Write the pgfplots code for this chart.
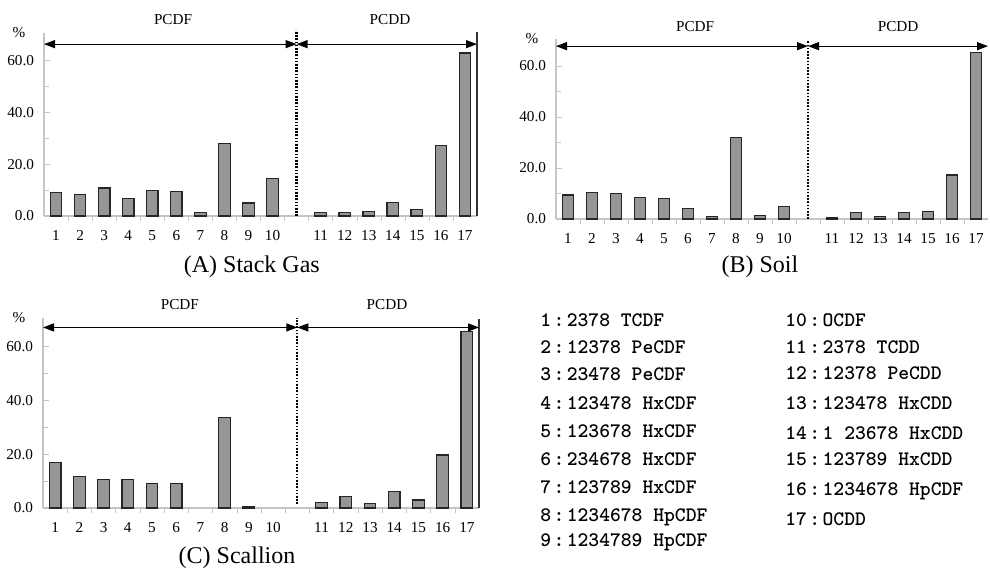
\documentclass[border=0pt]{standalone}
\usepackage{fontspec}
\setmainfont{Liberation Serif}
\usepackage{pgfplots}
\pgfplotsset{compat=1.18}
\usetikzlibrary{arrows.meta}

\definecolor{barfill}{HTML}{969696}
\definecolor{baredge}{HTML}{262626}
\definecolor{axgray}{HTML}{C4C4C4}

% shared look of the three congener profiles
\pgfplotsset{
  congener/.style={
    scale only axis,
    anchor=south west,
    xmin=0.5, xmax=18.5,
    ymin=0, ymax=70.5,
    clip=false,
    axis x line*=bottom,
    axis y line*=left,
    every outer x axis line/.append style={-},
    every outer y axis line/.append style={-},
    axis line style={axgray, line width=0.6pt},
    xtick={1,2,3,4,5,6,7,8,9,10,12,13,14,15,16,17,18},
    xticklabels={1,2,3,4,5,6,7,8,9,10,11,12,13,14,15,16,17},
    minor xtick={1.5,2.5,3.5,4.5,5.5,6.5,7.5,8.5,9.5,10.5,11.5,12.5,13.5,14.5,15.5,16.5,17.5},
    major x tick style={draw=none},
    minor x tick style={axgray},
    ytick={0,20,40,60},
    minor ytick={10,30,50},
    y tick style={axgray},
    tick align=inside,
    major tick length=3pt, minor tick length=2.5pt,
    /pgf/number format/assume math mode=true,
    tick label style={font=\fontsize{7.6}{9}\selectfont},
    xticklabel style={yshift=-0.5pt},
    yticklabel style={xshift=-1.5pt, /pgf/number format/.cd, fixed, fixed zerofill, precision=1, assume math mode=true},
    ybar, bar width=0.48,
  },
  bars/.style={fill=barfill, draw=baredge, line width=0.6pt},
}
\tikzset{
  span/.style={{Triangle[length=5.5pt,width=4pt]}-{Triangle[length=5.5pt,width=4pt]}, line width=0.6pt},
  sep/.style={line width=1.1pt, dash pattern=on 0.8pt off 0.8pt},
  grp/.style={font=\fontsize{7.6}{9}\selectfont},
  ttl/.style={font=\fontsize{12}{14}\selectfont},
}
\newcommand{\legentry}[2]{#1\kern1.2pt:\kern1.2pt#2}

\begin{document}
\begin{tikzpicture}
\path[use as bounding box] (0,0) rectangle (495pt,284pt);

% (A) Stack Gas
\begin{axis}[congener, at={(22pt,176pt)}, width=216.5pt, height=91.5pt]
\addplot[bars] coordinates {
(1,8.9) (2,8.2) (3,10.8) (4,6.6) (5,9.8) (6,9.3) (7,1.4) (8,27.9) (9,5.0) (10,14.5)
(12,1.4) (13,1.4) (14,1.8) (15,5.1) (16,2.4) (17,27.2) (18,62.8)
};
\draw[span] (axis cs:0.5,66.2) -- (axis cs:11,66.2);
\draw[span] (axis cs:11,66.2) -- (axis cs:18.5,66.2);
\draw[sep] (axis cs:11,0) -- (axis cs:11,71.5);
\draw[black!80, line width=0.7pt] (axis cs:18.5,0) -- (axis cs:18.5,70.8);
\node[grp] at (rel axis cs:0.298,1.071) {PCDF};
\node[grp] at (rel axis cs:0.799,1.071) {PCDD};
\node[grp, xshift=-12.5pt] at (rel axis cs:0,1.005) {\%};
\node[ttl, yshift=-25.5pt] at (rel axis cs:0.48,0) {(A) Stack Gas};
\end{axis}

% (B) Soil
\begin{axis}[congener, at={(278pt,174.5pt)}, width=216pt, height=90pt]
\addplot[bars] coordinates {
(1,9.4) (2,10.3) (3,9.9) (4,8.5) (5,8.1) (6,4.2) (7,1.0) (8,32.0) (9,1.4) (10,5.0)
(12,0.7) (13,2.5) (14,1.0) (15,2.5) (16,2.9) (17,17.2) (18,65.1)
};
\draw[span] (axis cs:0.5,67.7) -- (axis cs:11,67.7);
\draw[span] (axis cs:11,67.7) -- (axis cs:18.5,67.7);
\draw[sep] (axis cs:11,0) -- (axis cs:11,70);
\node[grp] at (rel axis cs:0.322,1.068) {PCDF};
\node[grp] at (rel axis cs:0.792,1.068) {PCDD};
\node[grp, xshift=-12pt] at (rel axis cs:0,1.005) {\%};
\node[ttl, yshift=-24pt] at (rel axis cs:0.472,0) {(B) Soil};
\end{axis}

% (C) Scallion -- congeners 7 and 10 not found
\begin{axis}[congener, at={(21.5pt,30pt)}, width=218pt, height=95pt]
\addplot[bars] coordinates {
(1,17.0) (2,11.7) (3,10.5) (4,10.5) (5,9.1) (6,9.1) (8,33.6) (9,0.6)
(12,2.1) (13,4.3) (14,1.6) (15,6.0) (16,3.0) (17,19.7) (18,65.4)
};
\draw[span] (axis cs:0.5,67) -- (axis cs:11,67);
\draw[span] (axis cs:11,67) -- (axis cs:18.5,67);
\draw[sep] (axis cs:11,1.5) -- (axis cs:11,70.5);
\draw[black!80, line width=0.7pt] (axis cs:18.5,0) -- (axis cs:18.5,70);
\node[grp] at (rel axis cs:0.314,1.069) {PCDF};
\node[grp] at (rel axis cs:0.789,1.069) {PCDD};
\node[grp, xshift=-12pt] at (rel axis cs:0,1.0) {\%};
\node[ttl, yshift=-25pt] at (rel axis cs:0.445,0) {(C) Scallion};
\end{axis}

% congener key
\begin{scope}[every node/.style={anchor=base west, inner sep=0pt, font=\ttfamily\bfseries\fontsize{10.3}{12}\selectfont\addfontfeature{FakeBold=1.2}}]
\node at (270pt,120.75pt) {\legentry{1}{2378 TCDF}};
\node at (270pt,107.25pt) {\legentry{2}{12378 PeCDF}};
\node at (270pt,93.75pt)  {\legentry{3}{23478 PeCDF}};
\node at (270pt,79.25pt)  {\legentry{4}{123478 HxCDF}};
\node at (270pt,65.25pt)  {\legentry{5}{123678 HxCDF}};
\node at (270pt,51.25pt)  {\legentry{6}{234678 HxCDF}};
\node at (270pt,37.25pt)  {\legentry{7}{123789 HxCDF}};
\node at (270pt,23.25pt)  {\legentry{8}{1234678 HpCDF}};
\node at (270pt,10.75pt)  {\legentry{9}{1234789 HpCDF}};
\node at (392.5pt,120.75pt) {\legentry{10}{OCDF}};
\node at (392.5pt,107.25pt) {\legentry{11}{2378 TCDD}};
\node at (392.5pt,94.25pt)  {\legentry{12}{12378 PeCDD}};
\node at (392.5pt,79.25pt)  {\legentry{13}{123478 HxCDD}};
\node at (392.5pt,64.25pt)  {\legentry{14}{1 23678 HxCDD}};
\node at (392.5pt,51.25pt)  {\legentry{15}{123789 HxCDD}};
\node at (392.5pt,36.25pt)  {\legentry{16}{1234678 HpCDF}};
\node at (392.5pt,21.25pt)  {\legentry{17}{OCDD}};
\end{scope}
\end{tikzpicture}
\end{document}
